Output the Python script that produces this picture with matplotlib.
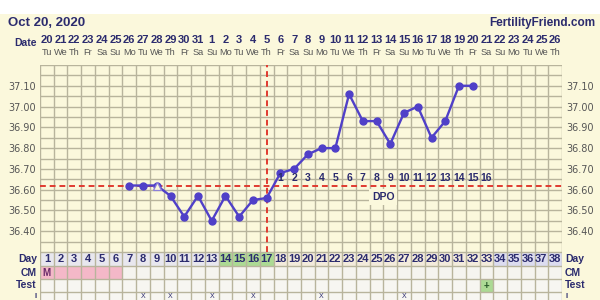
import matplotlib.pyplot as plt
from matplotlib.patches import Rectangle

# cycle chart data
cycle_days = list(range(1, 39))
date_labels = ["20", "21", "22", "23", "24", "25", "26", "27", "28", "29", "30", "31",
               "1", "2", "3", "4", "5", "6", "7", "8", "9", "10", "11", "12", "13",
               "14", "15", "16", "17", "18", "19", "20", "21", "22", "23", "24", "25", "26"]
week = ["Tu", "We", "Th", "Fr", "Sa", "Su", "Mo"]
dow_labels = [week[i % 7] for i in range(len(cycle_days))]

temp_days = list(range(7, 33))
temps = [36.62, 36.62, 36.62, 36.57, 36.47, 36.57, 36.45, 36.57, 36.47, 36.55,
         36.56, 36.68, 36.70, 36.77, 36.80, 36.80, 37.06, 36.93, 36.93, 36.82,
         36.97, 37.00, 36.85, 36.93, 37.10, 37.10]
open_days = [9]
coverline = 36.62
ovulation_day = 17
dpo_days = list(range(18, 34))
dpo_labels = [str(i) for i in range(1, 17)]
fertile_days = [14, 15, 16, 17]
menses_days = [1, 2, 3, 4, 5, 6]
positive_test_day = 33
intercourse_days = [8, 10, 13, 16, 21, 27]
temp_ticks = [36.40, 36.50, 36.60, 36.70, 36.80, 36.90, 37.00, 37.10]

CREAM = "#fbf8dc"
GRID = "#b8b49c"
NAVY = "#2b2b6e"
PURPLE = "#5040c8"
RED = "#e03a30"
FW = 600.0
FH = 300.0


def box(x0, y0, x1, y1):
    # pixel box (top-left origin) -> figure fraction rect
    return [x0 / FW, 1 - y1 / FH, (x1 - x0) / FW, (y1 - y0) / FH]


fig = plt.figure(figsize=(6, 3), dpi=100, facecolor=CREAM)
fig.patches.append(Rectangle((0, 1 - 14 / FH), 1, 14 / FH, transform=fig.transFigure,
                             facecolor="white", edgecolor="none"))

fig.text(8 / FW, 1 - 23 / FH, "Oct 20, 2020", family="Liberation Sans", weight="bold",
         fontsize=9.5, color=NAVY, va="center", ha="left")
fig.text(595 / FW, 1 - 23 / FH, "FertilityFriend.com", family="Liberation Sans",
         weight="bold", fontsize=8.5, color=NAVY, va="center", ha="right")

X0, X1 = 40, 562

# header: dates and weekdays
hdr = fig.add_axes(box(X0, 33, X1, 60))
hdr.set_xlim(0.5, 38.5)
hdr.set_ylim(1, 0)
hdr.axis("off")
for d, lab, w in zip(cycle_days, date_labels, dow_labels):
    hdr.text(d, 0.27, lab, ha="center", va="center", family="Liberation Sans",
             weight="bold", fontsize=8, color=NAVY)
    hdr.text(d, 0.72, w, ha="center", va="center", family="Liberation Sans",
             fontsize=6.7, color="#555555")
fig.text(37 / FW, 1 - 43 / FH, "Date", ha="right", va="center", family="Liberation Sans",
         weight="bold", fontsize=7.5, color=NAVY)

# temperature area
ax = fig.add_axes(box(X0, 65, X1, 252))
ax.set_facecolor(CREAM)
ax.set_xlim(0.5, 38.5)
ax.set_ylim(36.30, 37.20)
for d in range(0, 39):
    ax.axvline(d + 0.5, color=GRID, lw=1.0, zorder=1)
for i in range(19):
    ax.axhline(36.30 + i * 0.05, color=GRID, lw=1.0, zorder=1)
for s in ax.spines.values():
    s.set_visible(False)
ax.set_xticks([])
ax.set_yticks(temp_ticks)
ax.set_yticklabels([f"{t:.2f}" for t in temp_ticks])
ax.tick_params(axis="y", length=0, labelsize=7, labelcolor="#555555", pad=3,
               labelleft=True, labelright=True)

ax.axhline(coverline, color=RED, lw=1.4, ls=(0, (3, 2)), zorder=3)
ax.axvline(ovulation_day, color=RED, lw=1.4, ls=(0, (3, 2)), zorder=3)

ax.plot(temp_days, temps, color=PURPLE, lw=1.7, marker="o", ms=5, zorder=4)
for d in open_days:
    t = temps[temp_days.index(d)]
    ax.plot([d], [t], marker="^", ms=6, mfc=CREAM, mec="#8c80d8", mew=0.9, zorder=5)

for d, lab in zip(dpo_days, dpo_labels):
    ax.text(d, 36.657, lab, ha="center", va="center", family="Liberation Sans",
            weight="bold", fontsize=7.5, color=NAVY, zorder=5)
ax.text(25.5, 36.565, "DPO", ha="center", va="center", family="Liberation Sans",
        weight="bold", fontsize=7.5, color=NAVY, zorder=5,
        bbox=dict(facecolor=CREAM, edgecolor="none", pad=2))

# chart table rows below
rows = [(0, 14), (14, 27), (27, 40), (40, 54)]
tb = fig.add_axes(box(X0, 252, X1, 306))
tb.set_xlim(0.5, 38.5)
tb.set_ylim(54, 0)
tb.axis("off")

for d in cycle_days:
    if d in fertile_days:
        c = "#acda94"
    elif d <= 13:
        c = "#e8e7ee"
    elif d <= 33:
        c = "#f3ebdc"
    else:
        c = "#dcdcf0"
    tb.add_patch(Rectangle((d - 0.5, 0), 1, 14, facecolor=c, edgecolor="none"))
    cm_c = "#f4b8c8" if d in menses_days else "#f5f4ef"
    tb.add_patch(Rectangle((d - 0.5, 14), 1, 13, facecolor=cm_c, edgecolor="none"))
    test_c = "#acda94" if d == positive_test_day else "#f7f6f1"
    tb.add_patch(Rectangle((d - 0.5, 27), 1, 13, facecolor=test_c, edgecolor="none"))
    tb.add_patch(Rectangle((d - 0.5, 40), 1, 14, facecolor="#f7f6f1", edgecolor="none"))
    tb.text(d, 7, str(d), ha="center", va="center", family="Liberation Sans",
            weight="bold", fontsize=8, color=NAVY)

for d in range(0, 39):
    tb.plot([d + 0.5, d + 0.5], [0, 54], color=GRID, lw=1.0)
for y in [0, 14, 27, 40]:
    tb.plot([0.5, 38.5], [y, y], color=GRID, lw=1.0)

tb.text(1, 20.5, "M", ha="center", va="center", family="Liberation Sans",
        weight="bold", fontsize=7, color="#6a2a6a")
tb.text(positive_test_day, 33.5, "+", ha="center", va="center", family="Liberation Sans",
        weight="bold", fontsize=7, color="#2a5a2a")
# intercourse row is mostly below the frame; keep the marks inside it
for d in intercourse_days:
    tb.text(d, 44.5, "X", ha="center", va="center", family="Liberation Sans",
            fontsize=5, color=NAVY)

for lab, (y0, y1) in zip(["Day", "CM", "Test"], rows):
    yc = 252 + (y0 + y1) / 2
    fig.text(37 / FW, 1 - yc / FH, lab, ha="right", va="center", family="Liberation Sans",
             weight="bold", fontsize=7.5, color=NAVY)
    fig.text(565 / FW, 1 - yc / FH, lab, ha="left", va="center",
             family="Liberation Sans", weight="bold", fontsize=7.5, color=NAVY)
fig.text(37 / FW, 1 - 296.5 / FH, "I", ha="right", va="center", family="Liberation Sans",
         weight="bold", fontsize=5.5, color=NAVY)
fig.text(565 / FW, 1 - 296.5 / FH, "I", ha="left", va="center", family="Liberation Sans",
         weight="bold", fontsize=5.5, color=NAVY)

fig.savefig("out.png", dpi=100, facecolor=CREAM)
